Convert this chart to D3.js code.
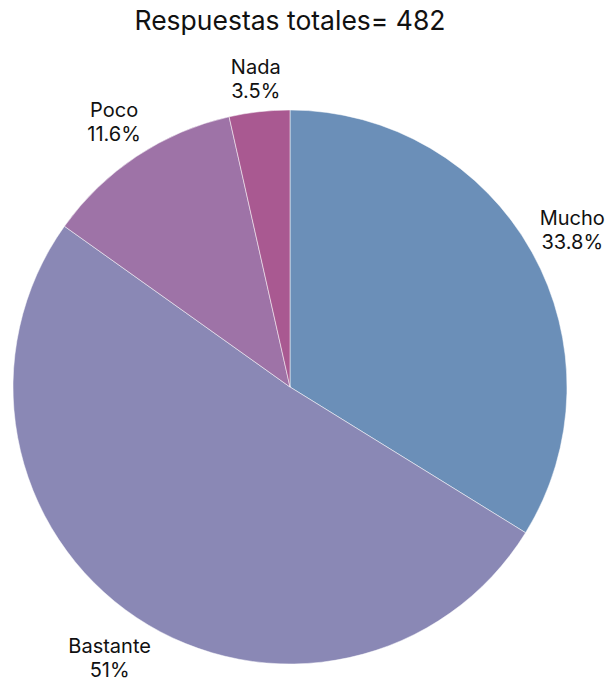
<!DOCTYPE html>
<html>
<head>
<meta charset="utf-8">
<script src="https://cdn.jsdelivr.net/npm/d3@7"></script>
<style>
  body { margin: 0; background: #fff; }
  text { font-family: Inter, "Noto Sans", sans-serif; fill: #111; }
</style>
</head>
<body>
<script>
// Chart data
var categories = ["Mucho", "Bastante", "Poco", "Nada"];
var counts = [163, 246, 56, 17];
var percentLabels = ["33.8%", "51%", "11.6%", "3.5%"];
var colors = ["#6b8fb8", "#8a88b5", "#9e73a7", "#a95991"];
var total = 482;

var width = 614, height = 686;
var cx = 290, cy = 387, radius = 277;

var svg = d3.select("body")
    .append("svg")
        .attr("width", width)
        .attr("height", height);

// Title
svg.append("text")
    .attr("x", 290)
    .attr("y", 30)
    .attr("text-anchor", "middle")
    .style("font-size", "26.5px")
    .text("Respuestas totales= " + total);

var data = categories.map(function(c, i) {
    return {name: c, value: counts[i], pct: percentLabels[i], color: colors[i]};
});

var pie = d3.pie()
    .sort(null)
    .value(function(d) { return d.value; });

var arc = d3.arc()
    .innerRadius(0)
    .outerRadius(radius);

var g = svg.append("g")
    .attr("transform", "translate(" + cx + "," + cy + ")");

var arcs = pie(data);

g.selectAll("path")
    .data(arcs)
  .enter().append("path")
    .attr("d", arc)
    .attr("fill", function(d) { return d.data.color; })
    .attr("stroke", "#fff")
    .attr("stroke-width", 0.5);

// Outside labels: box centre on the mid-angle ray, box just clear of the rim
var labels = g.selectAll("g.label")
    .data(arcs)
  .enter().append("g")
    .attr("class", "label");

labels.each(function(d) {
    var lg = d3.select(this);
    var t = lg.append("text")
        .attr("text-anchor", "middle")
        .style("font-size", "20px");
    t.append("tspan").attr("x", 0).attr("dy", "-0.2em").text(d.data.name);
    t.append("tspan").attr("x", 0).attr("dy", "1.2em").text(d.data.pct);

    var bb = t.node().getBBox();
    var a = (d.startAngle + d.endAngle) / 2;
    var s = Math.sin(a), c = -Math.cos(a);
    var r = radius + 6 + (bb.width / 2) * Math.abs(s) + (bb.height / 2) * Math.abs(c);
    var bcx = bb.x + bb.width / 2, bcy = bb.y + bb.height / 2;
    lg.attr("transform", "translate(" + (r * s - bcx) + "," + (r * c - bcy) + ")");
});
</script>
</body>
</html>
